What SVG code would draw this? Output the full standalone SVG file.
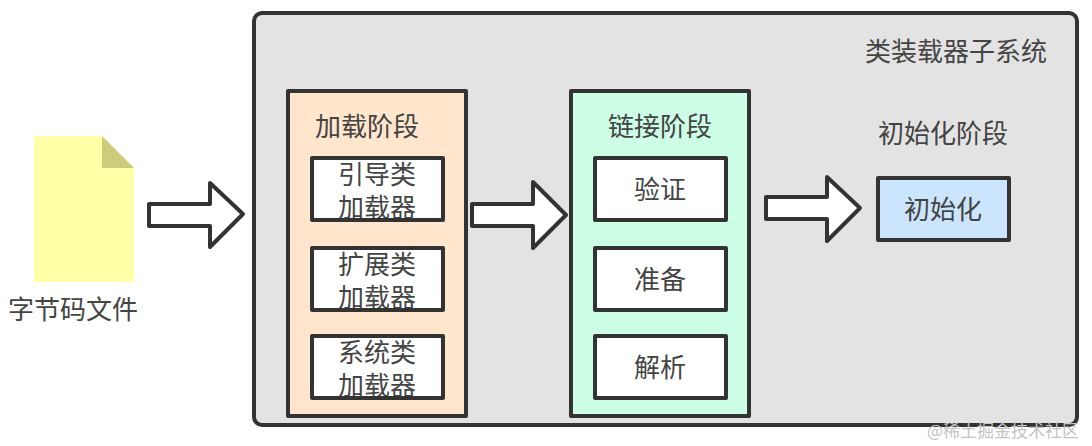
<svg xmlns="http://www.w3.org/2000/svg" width="1092" height="446" viewBox="0 0 1092 446">
<style>
text{font-family:"Noto Sans CJK SC","Noto Sans",sans-serif;font-size:26px;fill:#444;text-anchor:middle}
.b{stroke:#333;stroke-width:4;stroke-linejoin:round}
.w{fill:#fff}
.a{fill:#fff;stroke:#333;stroke-width:4;stroke-linejoin:round}
</style>
<defs>
<clipPath id="c1"><rect x="314" y="160" width="127" height="58"/></clipPath>
<clipPath id="c2"><rect x="314" y="250" width="127" height="58"/></clipPath>
<clipPath id="c3"><rect x="314" y="338" width="127" height="58"/></clipPath>
</defs>
<rect width="1092" height="446" fill="#fff"/>
<g id="subsystem"><rect class="b" x="254" y="13" width="823" height="412" rx="8" fill="#e3e3e3"/><text x="956" y="61">类装载器子系统</text></g>
<g id="file"><path d="M34 136H102L134 168V282H34Z" fill="#ffffa8"/><path d="M102 136L134 168H102Z" fill="#cccc7a"/><text x="73" y="319">字节码文件</text></g>
<g id="loading"><rect class="b" x="288" y="91" width="178" height="325" fill="#ffe6cc"/><text x="367" y="136">加载阶段</text>
<g id="boot"><rect class="b w" x="312" y="158" width="131" height="62"/><g clip-path="url(#c1)"><text x="377" y="184">引导类</text><text x="377" y="217">加载器</text></g></g>
<g id="ext"><rect class="b w" x="312" y="248" width="131" height="62"/><g clip-path="url(#c2)"><text x="377" y="274">扩展类</text><text x="377" y="307">加载器</text></g></g>
<g id="sys"><rect class="b w" x="312" y="336" width="131" height="62"/><g clip-path="url(#c3)"><text x="377" y="362">系统类</text><text x="377" y="395">加载器</text></g></g></g>
<g id="linking"><rect class="b" x="571" y="91" width="178" height="325" fill="#ccffe6"/><text x="660" y="136">链接阶段</text>
<g id="verify"><rect class="b w" x="595" y="158" width="131" height="62"/><text x="660" y="199">验证</text></g>
<g id="prepare"><rect class="b w" x="595" y="248" width="131" height="62"/><text x="660" y="289">准备</text></g>
<g id="resolve"><rect class="b w" x="595" y="336" width="131" height="62"/><text x="660" y="377">解析</text></g></g>
<g id="init"><text x="943" y="143">初始化阶段</text><rect class="b" x="878" y="178" width="131" height="62" fill="#cce5ff"/><text x="943" y="219">初始化</text></g>
<g id="connectors">
<path class="a" d="M149 204H210V183L243 214L210 247V226H149Z"/>
<path class="a" d="M472 204H533V182L566 215L533 248V226H472Z"/>
<path class="a" d="M766 197H827V177L860 208L827 241V219H766Z"/>
</g>
<text x="1003" y="437" style="font-size:17px;fill:#c4c4c4">@稀土掘金技术社区</text>
</svg>
